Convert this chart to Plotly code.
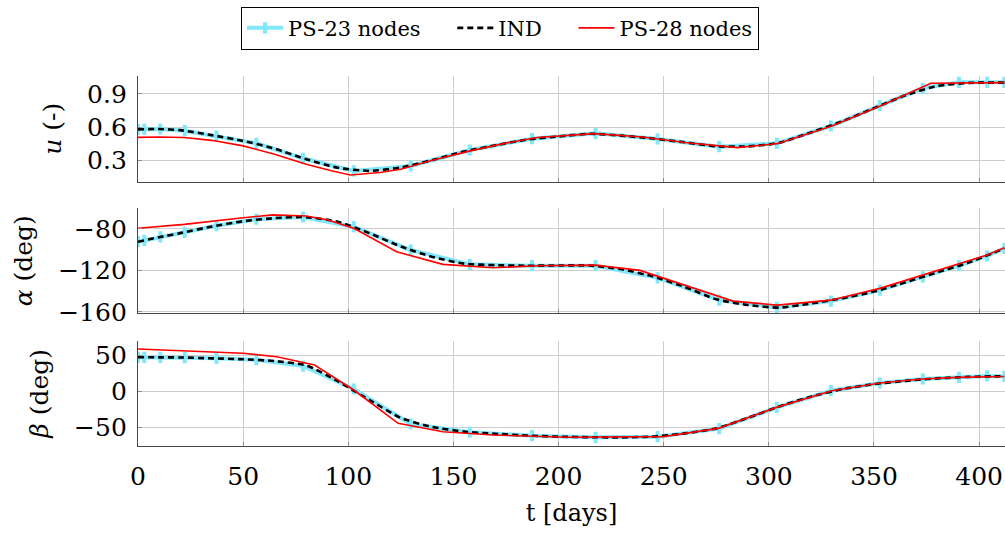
import plotly.graph_objects as go
from plotly.subplots import make_subplots

# ---------------- data ----------------
# PS-23 nodes (cyan, markers at nodes)
t_ps23 = [0, 3, 10.6, 22.2, 37.3, 56.3, 78.5, 102.6, 129.7, 157.8, 187.4,
          217.6, 247.1, 276.4, 303.8, 329.5, 352.8, 373.2, 390.4, 403.8, 412]
u_ps23 = [0.579, 0.579, 0.582, 0.567, 0.519, 0.453, 0.318, 0.204, 0.249, 0.393, 0.495,
          0.543, 0.492, 0.423, 0.453, 0.609, 0.792, 0.949, 1.003, 1.003, 1.003]
a_ps23 = [-92.3, -91.0, -87.7, -83.2, -76.8, -70.6, -68.4, -77.8, -100.3, -114.2, -115.5,
          -115.5, -127.2, -148.8, -155.8, -149.7, -139.1, -126.2, -115.5, -106.1, -98.7]
b_ps23 = [47.2, 47.2, 47.2, 46.7, 45.8, 43.9, 35.1, 3.2, -45.4, -56.9, -61.7,
          -63.9, -63.1, -51.9, -22.2, 0.8, 11.5, 17.1, 19.4, 21.3, 20.8]

# IND (black dashed, smooth)
t_ind = [0, 10, 20, 35, 50, 65, 80, 95, 110, 125, 140, 155, 170, 185, 200,
         215, 230, 245, 260, 275, 290, 305, 320, 335, 350, 365, 380, 395, 412]
u_ind = [0.579, 0.582, 0.572, 0.527, 0.475, 0.405, 0.31, 0.232, 0.205, 0.235, 0.302,
         0.379, 0.435, 0.487, 0.515, 0.539, 0.522, 0.496, 0.462, 0.426, 0.425,
         0.458, 0.551, 0.652, 0.77, 0.886, 0.97, 0.998, 1.0]
a_ind = [-92.3, -88.0, -84.0, -77.7, -72.5, -69.5, -68.5, -73.0, -84.0, -97.0, -107.0,
         -113.5, -115.0, -115.5, -115.3, -115.3, -119.0, -126.0, -136.0, -148.0, -153.5,
         -156.0, -152.0, -147.0, -140.5, -131.5, -122.0, -112.5, -98.7]
b_ind = [47.5, 47.2, 47.0, 45.8, 44.5, 42.0, 36.0, 14.0, -12.0, -37.0, -49.6,
         -56.0, -59.0, -61.5, -63.0, -63.8, -64.0, -62.8, -58.5, -51.5, -37.0,
         -21.0, -7.5, 3.0, 10.0, 14.5, 18.0, 20.0, 21.0]

# PS-28 nodes (red, solid)
t_ps28_u = [0, 10, 22, 35, 50, 65, 80, 92, 101, 115, 125, 140, 158, 175, 190,
            205, 217, 240, 260, 285, 304, 330, 353, 377, 395, 412]
u_ps28 = [0.507, 0.51, 0.505, 0.48, 0.43, 0.355, 0.265, 0.205, 0.168, 0.19, 0.22,
          0.30, 0.385, 0.455, 0.505, 0.528, 0.54, 0.51, 0.46, 0.414, 0.45, 0.61,
          0.79, 0.995, 1.0, 1.0]
t_ps28_a = [0, 22, 50, 64, 80, 90, 102.6, 123, 145, 169, 190, 205, 217.6, 238.7,
            247, 265, 283, 304, 329.5, 352.8, 373.2, 390.4, 403.8, 412]
a_ps28 = [-79.3, -75.5, -69.1, -66.4, -67.5, -71.0, -79.3, -102.0, -114.2, -117.5,
          -115.5, -114.9, -114.9, -120.0, -125.5, -137.5, -149.7, -153.6, -148.8,
          -137.4, -124.6, -113.2, -105.2, -98.1]
t_ps28_b = [0, 50, 66, 84, 102.6, 123.7, 145, 169, 205, 240, 250, 276, 304, 330,
            353, 373, 390, 412]
b_ps28 = [58.8, 52.8, 48.1, 36.5, 1.8, -44.5, -56.1, -60.7, -63.9, -63.5, -63.0,
          -51.5, -22.0, 0.8, 11.5, 17.0, 19.4, 20.5]

x_ticks = [0, 50, 100, 150, 200, 250, 300, 350, 400]
u_ticks = [0.3, 0.6, 0.9]
a_ticks = [-80, -120, -160]
b_ticks = [50, 0, -50]

# ---------------- figure ----------------
FONT = "DejaVu Serif"
CYAN = "rgb(128,232,250)"
PAD = "\u00a0" * 4

fig = make_subplots(rows=3, cols=1, shared_xaxes=False)

panels = [
    (u_ps23, u_ind, t_ps28_u, u_ps28),
    (a_ps23, a_ind, t_ps28_a, a_ps28),
    (b_ps23, b_ind, t_ps28_b, b_ps28),
]
for i, (yc, yi, tr, yr) in enumerate(panels, start=1):
    show = (i == 1)
    fig.add_trace(go.Scatter(
        x=t_ps23, y=yc, mode="lines+markers", name="PS-23 nodes" + PAD,
        line=dict(color=CYAN, width=4),
        marker=dict(symbol="line-ns", size=8, color=CYAN,
                    line=dict(color=CYAN, width=4)),
        showlegend=show, legendrank=1), row=i, col=1)
    fig.add_trace(go.Scatter(
        x=t_ind, y=yi, mode="lines", name="IND" + PAD,
        line=dict(color="black", width=2.6, dash="6px,4px", shape="spline",
                  smoothing=0.6),
        showlegend=show, legendrank=2), row=i, col=1)
    fig.add_trace(go.Scatter(
        x=tr, y=yr, mode="lines", name="PS-28 nodes",
        line=dict(color="red", width=1.6),
        showlegend=show, legendrank=3), row=i, col=1)

H = 370.0
doms = [
    [(446 - 181.7) / H, 1.0],
    [(446 - 313.3) / H, (446 - 208.3) / H],
    [0.0, (446 - 340.7) / H],
]
yranges = [[0.107, 1.06], [-161.5, -60], [-76, 70.3]]
ytitles = ["<i>u</i> (-)", "<i>α</i> (deg)", "<i>β</i> (deg)"]
ytickss = [u_ticks, a_ticks, b_ticks]

axis_common = dict(
    showgrid=True, gridcolor="rgb(205,205,205)", gridwidth=1,
    showline=True, linecolor="rgb(70,70,70)", linewidth=1.3,
    ticks="inside", ticklen=4, tickcolor="rgb(140,140,140)", tickwidth=1.3,
    zeroline=False, ticklabeloverflow="allow",
    tickfont=dict(family=FONT, size=25, color="black"),
)

for i in range(3):
    xa = "xaxis" if i == 0 else f"xaxis{i+1}"
    ya = "yaxis" if i == 0 else f"yaxis{i+1}"
    fig.layout[xa].update(
        range=[0, 412.3], tickvals=x_ticks, showticklabels=(i == 2),
        ticklabelstandoff=8, **axis_common)
    fig.layout[ya].update(
        domain=doms[i], range=yranges[i], tickvals=ytickss[i],
        ticklabelstandoff=5,
        title=dict(text=ytitles[i], font=dict(family=FONT, size=25, color="black"),
                   standoff=18),
        **axis_common)

fig.layout["xaxis3"].update(
    title=dict(text="t [days]", font=dict(family=FONT, size=24, color="black"),
               standoff=14))

fig.update_layout(
    width=1005, height=533,
    margin=dict(l=138, r=0, t=76, b=87),
    plot_bgcolor="white", paper_bgcolor="white",
    font=dict(family=FONT, size=21, color="black"),
    legend=dict(orientation="h", x=(500 - 138) / 867.0, xanchor="center",
                y=1 + (76 - 6.7) / H, yanchor="top",
                bordercolor="black", borderwidth=1, bgcolor="white",
                font=dict(family=FONT, size=21, color="black"),
                itemwidth=36, tracegroupgap=0),
)

fig.write_html("out.html",
               config={"displayModeBar": False},
               post_script="document.body.style.margin='0';"
                           "document.body.style.overflow='hidden';")
